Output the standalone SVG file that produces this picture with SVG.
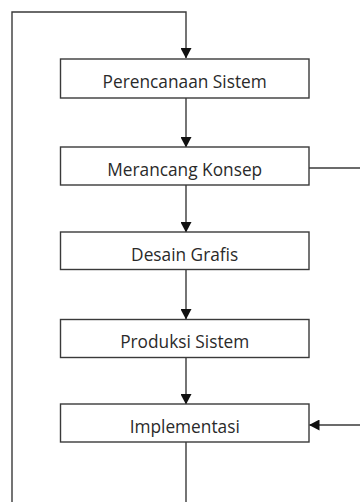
<svg xmlns="http://www.w3.org/2000/svg" width="360" height="502" viewBox="0 0 360 502">
<style>
.box{fill:#fff;stroke:#3a3a3a;stroke-width:1.4}
.lbl{font-family:"Open Sans","Liberation Sans",sans-serif;font-size:17.3px;fill:#2a2a2a;text-anchor:middle}
.ln{fill:none;stroke:#3a3a3a;stroke-width:1.4}
</style>
<defs>
<marker id="ah" markerWidth="11" markerHeight="11" refX="10" refY="5.5" orient="auto" markerUnits="userSpaceOnUse">
<path d="M0,0 L10.5,5.5 L0,11 Z" fill="#111"/>
</marker>
</defs>
<g id="connectors">
<path class="ln" d="M12,502 V12 H186 V58" marker-end="url(#ah)"/>
<path class="ln" d="M186,98 V147" marker-end="url(#ah)"/>
<path class="ln" d="M186,185 V232" marker-end="url(#ah)"/>
<path class="ln" d="M186,269 V319" marker-end="url(#ah)"/>
<path class="ln" d="M186,357 V404" marker-end="url(#ah)"/>
<path class="ln" d="M309,168 H360"/>
<path class="ln" d="M360,425 H309.5" marker-end="url(#ah)"/>
<path class="ln" d="M186,442 V502"/>
</g>
<g id="n1"><rect class="box" x="60.5" y="59" width="248.5" height="39"/><text class="lbl" x="184.7" y="88.3">Perencanaan Sistem</text></g>
<g id="n2"><rect class="box" x="60.5" y="147" width="248.5" height="38"/><text class="lbl" x="184.7" y="176">Merancang Konsep</text></g>
<g id="n3"><rect class="box" x="60.5" y="232" width="248.5" height="37.5"/><text class="lbl" x="184.7" y="260.5">Desain Grafis</text></g>
<g id="n4"><rect class="box" x="60.5" y="319.5" width="248.5" height="38"/><text class="lbl" x="184.7" y="348">Produksi Sistem</text></g>
<g id="n5"><rect class="box" x="60.5" y="404" width="248.5" height="38"/><text class="lbl" x="184.7" y="432.5">Implementasi</text></g>
</svg>
